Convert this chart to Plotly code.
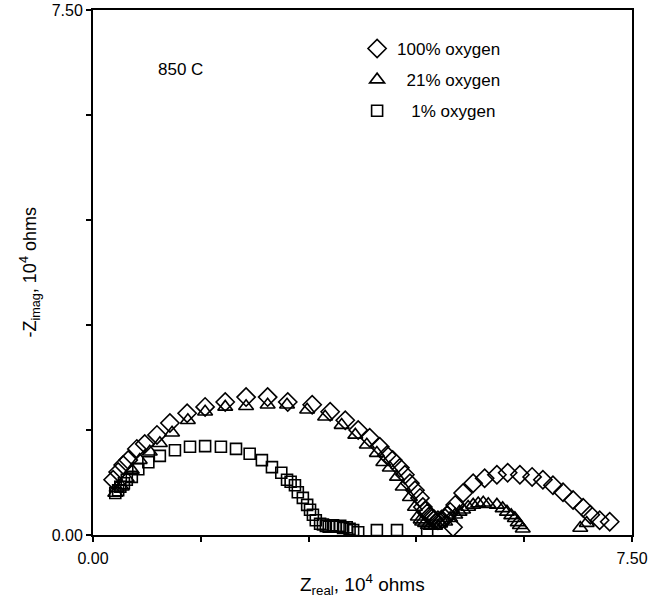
import plotly.graph_objects as go

# ---- data (units of 10^4 ohms) ----
o100_x = [0.28, 0.35, 0.42, 0.49, 0.61, 0.72, 0.89, 1.07, 1.31, 1.56, 1.84, 2.13, 2.43, 2.71, 3.05, 3.30,
          3.51, 3.69, 3.85, 3.99, 4.09, 4.17, 4.27, 4.34, 4.41, 4.48, 4.55, 4.59, 4.62, 4.65, 4.68, 4.72,
          4.75, 4.80, 4.85, 4.90, 4.93, 4.97, 5.04, 5.15, 5.29, 5.45, 5.62, 5.77, 5.94, 6.11, 6.26, 6.40,
          6.54, 6.68, 6.82, 6.92, 7.05, 7.19, 5.01]
o100_y = [0.79, 0.90, 1.00, 1.07, 1.23, 1.30, 1.43, 1.60, 1.74, 1.83, 1.90, 1.97, 1.97, 1.90, 1.86, 1.76,
          1.64, 1.50, 1.39, 1.26, 1.14, 1.07, 0.96, 0.86, 0.74, 0.64, 0.53, 0.40, 0.35, 0.31, 0.27, 0.24,
          0.22, 0.21, 0.22, 0.24, 0.28, 0.33, 0.43, 0.60, 0.74, 0.81, 0.86, 0.89, 0.86, 0.83, 0.79, 0.71,
          0.61, 0.50, 0.39, 0.29, 0.21, 0.19, 0.11]

o21_x = [0.31, 0.33, 0.40, 0.47, 0.54, 0.65, 0.79, 0.93, 1.10, 1.32, 1.56, 1.84, 2.13, 2.43, 2.70, 2.98,
         3.23, 3.46, 3.65, 3.81, 3.95, 4.04, 4.13, 4.23, 4.31, 4.41, 4.48, 4.52, 4.56, 4.58, 4.62, 4.66,
         4.70, 4.76, 4.83, 4.90, 4.97, 5.04, 5.10, 5.15, 5.22, 5.29, 5.36, 5.43, 5.50, 5.62, 5.70, 5.76,
         5.82, 5.87, 5.91, 5.94, 5.98, 6.78, 6.87]
o21_y = [0.60, 0.67, 0.69, 0.81, 0.93, 1.07, 1.19, 1.31, 1.46, 1.64, 1.76, 1.83, 1.84, 1.86, 1.86, 1.79,
         1.69, 1.57, 1.43, 1.29, 1.17, 1.04, 0.96, 0.83, 0.69, 0.54, 0.40, 0.26, 0.22, 0.19, 0.17, 0.14,
         0.13, 0.13, 0.16, 0.19, 0.24, 0.29, 0.33, 0.36, 0.40, 0.43, 0.45, 0.46, 0.44, 0.43, 0.38, 0.33,
         0.28, 0.24, 0.18, 0.14, 0.09, 0.10, 0.17]

o1_x = [0.31, 0.35, 0.38, 0.43, 0.47, 0.54, 0.63, 0.77, 0.93, 1.14, 1.35, 1.56, 1.78, 1.99, 2.18, 2.35,
        2.49, 2.62, 2.70, 2.75, 2.81, 2.85, 2.92, 2.98, 3.02, 3.06, 3.10, 3.16, 3.20, 3.24, 3.28, 3.34,
        3.38, 3.44, 3.48, 3.53, 3.57, 3.62, 3.69, 3.95, 4.23, 4.65]
o1_y = [0.60, 0.64, 0.69, 0.74, 0.79, 0.83, 0.94, 1.04, 1.13, 1.21, 1.26, 1.27, 1.26, 1.23, 1.16, 1.07,
        0.97, 0.89, 0.79, 0.76, 0.71, 0.61, 0.53, 0.43, 0.36, 0.29, 0.21, 0.16, 0.15, 0.13, 0.12, 0.14,
        0.12, 0.13, 0.10, 0.11, 0.09, 0.07, 0.04, 0.07, 0.07, 0.04]

series_names = ["100% oxygen", "\u00a0\u00a021% oxygen", "\u00a0\u00a0\u00a01% oxygen"]
tick_vals = [0, 1.5, 3.0, 4.5, 6.0, 7.5]
tick_text = ["0.00", "", "", "", "", "7.50"]

FONT = "Liberation Sans, Arial, sans-serif"

fig = go.Figure()
for xs, ys, name, sym, sz in [
    (o100_x, o100_y, series_names[0], "diamond-open", 14),
    (o21_x, o21_y, series_names[1], "triangle-up-open", 13),
    (o1_x, o1_y, series_names[2], "square-open", 11),
]:
    fig.add_trace(go.Scatter(
        x=xs, y=ys, mode="markers", name=name, legendgroup=name,
        marker=dict(symbol=sym, size=sz, color="black", line=dict(color="black", width=1.6)),
    ))

axis_common = dict(range=[0, 7.5], tickvals=tick_vals, showgrid=False, zeroline=False, automargin=False)

fig.update_layout(
    width=650, height=602,
    margin=dict(l=93, r=18, t=10, b=67),
    paper_bgcolor="white", plot_bgcolor="white",
    font=dict(family=FONT, size=16, color="black"),
    showlegend=True,
    legend=dict(x=0.49, y=0.96, xanchor="left", yanchor="top", bgcolor="rgba(0,0,0,0)",
                font=dict(size=17, color="black"), tracegroupgap=6, itemsizing="trace"),
    xaxis=dict(**axis_common, ticktext=tick_text, ticks="outside", ticklen=5, tickwidth=1.5,
               tickcolor="black", showline=True, linecolor="black", linewidth=2, mirror=True,
               ticklabelstandoff=3, tickfont=dict(size=16, color="black")),
    yaxis=dict(**axis_common, ticktext=tick_text, ticks="outside", ticklen=5, tickwidth=1.5,
               tickcolor="black", showline=True, linecolor="black", linewidth=2, mirror=True,
               tickfont=dict(size=16, color="black")),
    xaxis2=dict(**axis_common, overlaying="x", anchor="y", side="bottom", ticks="inside", ticklen=5,
                tickwidth=1.5, tickcolor="black", showticklabels=False, showline=False),
    yaxis2=dict(**axis_common, overlaying="y", anchor="x", side="left", ticks="inside", ticklen=5,
                tickwidth=1.5, tickcolor="black", showticklabels=False, showline=False),
    annotations=[
        dict(text="850 C", x=0.163, y=0.886, xref="paper", yref="paper", showarrow=False,
             xanchor="center", yanchor="middle", font=dict(size=17, color="black")),
        dict(text="Z<sub>real</sub>, 10<sup>4</sup> ohms", x=0.5, y=-0.095, xref="paper", yref="paper",
             showarrow=False, xanchor="center", yanchor="middle", font=dict(size=19, color="black")),
        dict(text="-Z<sub>imag</sub>, 10<sup>4</sup> ohms", x=-0.117, y=0.5, xref="paper", yref="paper",
             showarrow=False, textangle=-90, xanchor="center", yanchor="middle",
             font=dict(size=18, color="black")),
    ],
)

fig.write_html("out.html")
